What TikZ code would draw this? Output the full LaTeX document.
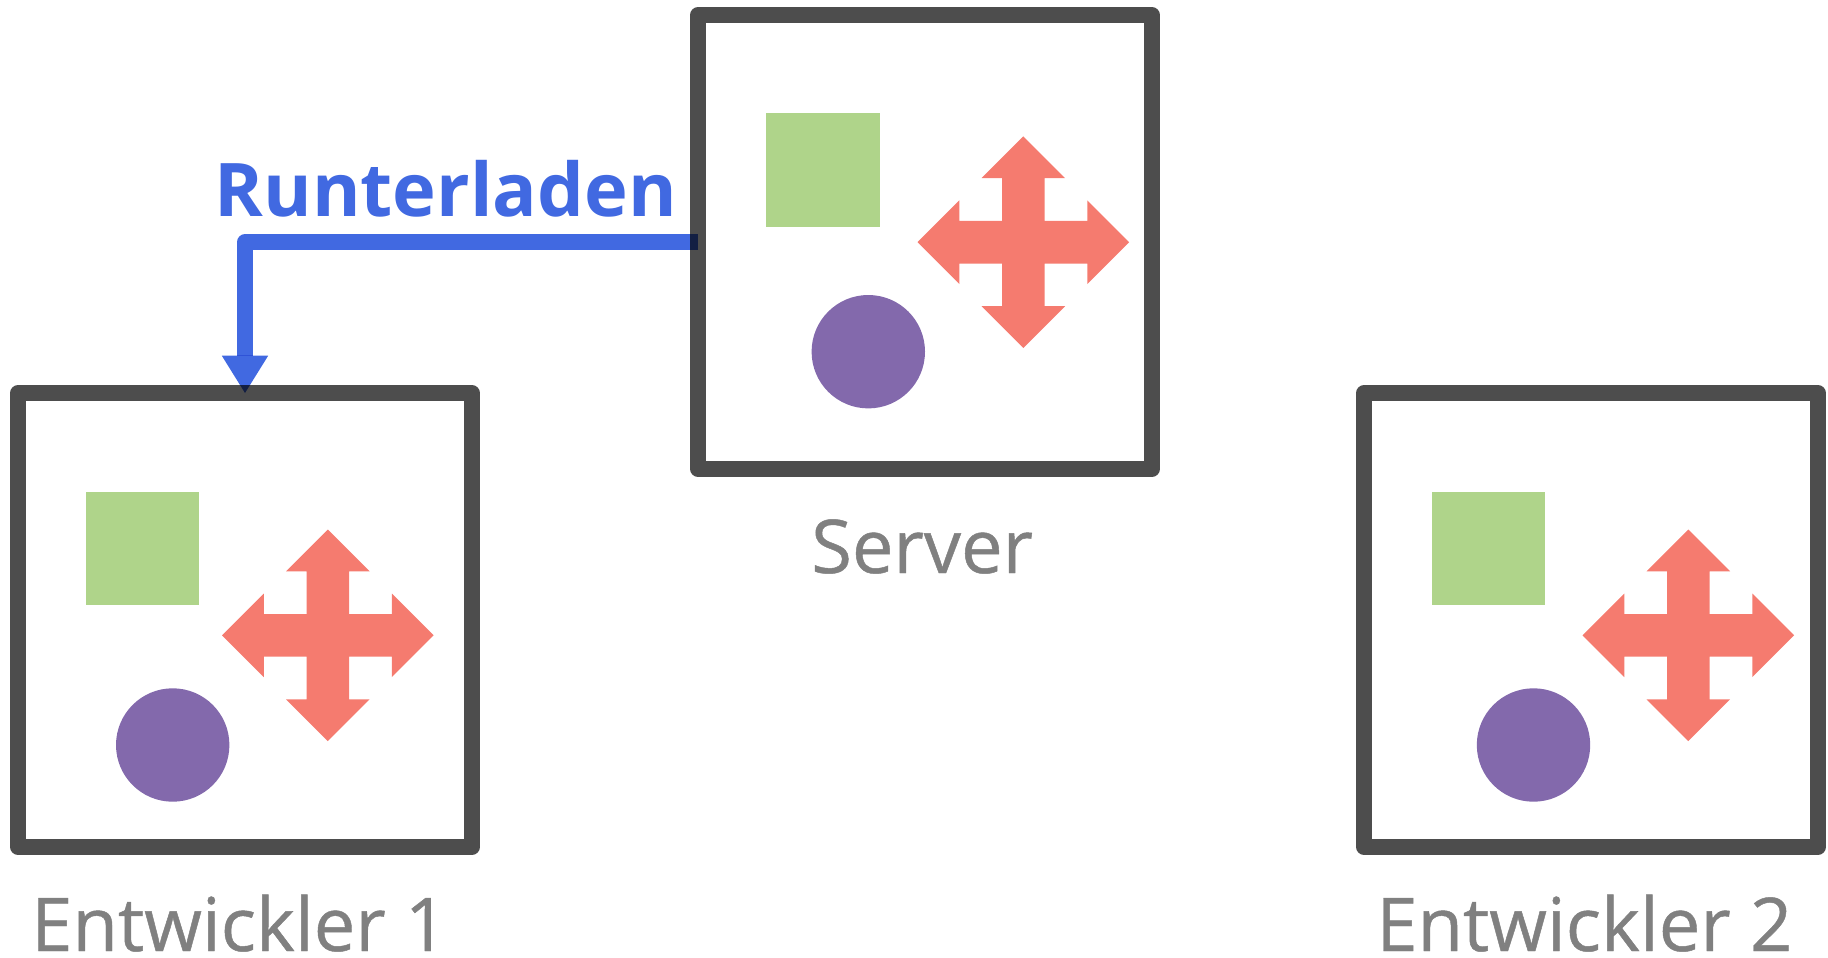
\documentclass[tikz,border=0pt]{standalone}
\usepackage{fontspec}
\setmainfont{Open Sans}
\newfontfamily\labelfont[FakeBold=0.6]{Open Sans}
\usetikzlibrary{arrows.meta}
\definecolor{boxgrey}{HTML}{4D4D4D}
\definecolor{labelgrey}{HTML}{808080}
\definecolor{leaf}{HTML}{AFD48A}
\definecolor{plum}{HTML}{8369AC}
\definecolor{salmon}{HTML}{F57B6F}
\definecolor{dlblue}{HTML}{4169E1}
\tikzset{
  machine/.style={draw=boxgrey,line width=15.7pt,line join=round,minimum width=454pt,minimum height=454pt,inner sep=0pt,outer sep=0pt},
  squareitem/.style={fill=leaf,minimum size=113.6pt,inner sep=0pt,outer sep=0pt},
  rounditem/.style={circle,fill=plum,minimum size=113.4pt,inner sep=0pt,outer sep=0pt},
  machinelabel/.style={text=labelgrey,font=\labelfont\fontsize{74.2}{80}\selectfont,anchor=base west,inner sep=0pt},
  actionlabel/.style={text=dlblue,font=\fontsize{74}{80}\selectfont\bfseries,anchor=base west,inner sep=0pt},
  pics/moveitem/.style={code={
    \fill[salmon] (0,-105.8) -- (41.8,-64) -- (21.3,-64) -- (21.3,-21.3) -- (64,-21.3) -- (64,-41.8) -- (105.8,0)
      -- (64,41.8) -- (64,21.3) -- (21.3,21.3) -- (21.3,64) -- (41.8,64) -- (0,105.8)
      -- (-41.8,64) -- (-21.3,64) -- (-21.3,21.3) -- (-64,21.3) -- (-64,41.8) -- (-105.8,0)
      -- (-64,-41.8) -- (-64,-21.3) -- (-21.3,-21.3) -- (-21.3,-64) -- (-41.8,-64) -- cycle;
  }}
}
\begin{document}
\begin{tikzpicture}[x=1pt,y=-1pt]
\useasboundingbox (0,0) rectangle (1828,958);
% machines
\node[machine] (server) at (925,242) {};
\node[machine] (dev1) at (245,620) {};
\node[machine] (dev2) at (1591,620) {};
% contents: server
\node[squareitem] (serverSquare) at (823.2,170.2) {};
\node[rounditem] (serverRound) at (868.3,351.7) {};
\pic (serverMove) at (1023.3,242.2) {moveitem};
% contents: developer 1
\node[squareitem] (devOneSquare) at (142.5,548.3) {};
\node[rounditem] (devOneRound) at (172.7,745) {};
\pic (devOneMove) at (327.8,635.3) {moveitem};
% contents: developer 2
\node[squareitem] (devTwoSquare) at (1488.5,548.3) {};
\node[rounditem] (devTwoRound) at (1533.5,745) {};
\pic (devTwoMove) at (1688.3,635.3) {moveitem};
% labels
\node[machinelabel] (serverLabel) at (811,573) {Server};
\node[machinelabel] (devOneLabel) at (31,951) {Entwickler 1};
\node[machinelabel] (devTwoLabel) at (1376,951) {Entwickler 2};
\node[actionlabel] (actionLabel) at (214.5,216) {Runterladen};
% connector
\draw[dlblue,line width=15.7pt,line join=round,blend mode=multiply,-{Triangle[length=37.3pt,width=46.4pt,line width=0pt,fill=dlblue]}] (server.west) -| (dev1.north);
\end{tikzpicture}
\end{document}
